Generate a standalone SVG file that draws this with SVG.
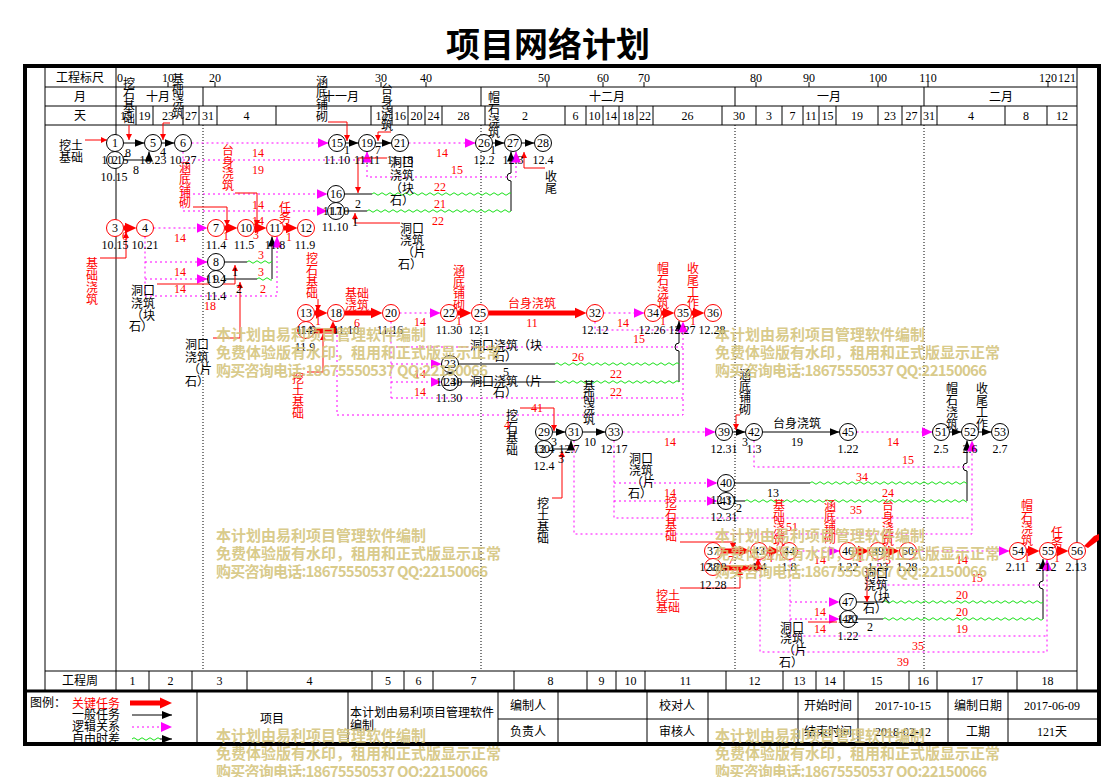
<svg xmlns="http://www.w3.org/2000/svg" xmlns:xlink="http://www.w3.org/1999/xlink" width="1101" height="777" viewBox="0 0 1101 777">
<style>
text{font-family:"Liberation Serif","Noto Sans CJK SC",serif;font-size:12px;fill:#000}
.c{text-anchor:middle}
.r{fill:#f00}
.ttl{font-family:"Noto Sans CJK SC",sans-serif;font-size:34px;font-weight:bold;text-anchor:middle}
.ln{fill:none;stroke:#000;stroke-width:1}
.tk{fill:none;stroke:#000;stroke-width:3}
.md{fill:none;stroke:#000;stroke-width:1;stroke-dasharray:1,2}
.nb{fill:#fff;stroke:#000;stroke-width:1}
.nr{fill:#fff;stroke:#f00;stroke-width:1}
.ca{fill:none;stroke:#f00;stroke-width:5;marker-end:url(#ar)}
.na{fill:none;stroke:#000;stroke-width:1;marker-end:url(#ab)}
.la{fill:none;stroke:#f0f;stroke-width:1;stroke-dasharray:2,3;marker-end:url(#am)}
.lo{fill:none;stroke:#f0f;stroke-width:1;stroke-dasharray:2,3}
.ld{fill:none;stroke:#f00;stroke-width:1}
.lda{fill:none;stroke:#f00;stroke-width:1;marker-end:url(#al)}
.wv{fill:none;stroke:#18e018;stroke-width:1}
.wm{font-family:"Noto Sans CJK SC",sans-serif;font-size:15px;font-weight:bold;fill:#d4c47c;fill-opacity:0.9}
</style>
<defs>
<marker id="ar" markerUnits="userSpaceOnUse" markerWidth="13" markerHeight="12" refX="3" refY="6" orient="auto"><path d="M0,0.5L12,6L0,11.5z" fill="#f00"/></marker>
<marker id="ab" markerUnits="userSpaceOnUse" markerWidth="11" markerHeight="9" refX="10" refY="4.5" orient="auto"><path d="M0,0.5L10,4.5L0,8.5z" fill="#000"/></marker>
<marker id="am" markerUnits="userSpaceOnUse" markerWidth="12" markerHeight="11" refX="11" refY="5.5" orient="auto"><path d="M0,0.5L11,5.5L0,10.5z" fill="#f0f"/></marker>
<marker id="al" markerUnits="userSpaceOnUse" markerWidth="7" markerHeight="7" refX="6" refY="3" orient="auto"><path d="M0,0L6,3L0,6z" fill="#f00"/></marker>
<path id="wave" class="wv" d="M0,0q2,-2.5 4,0t4,0t4,0t4,0t4,0t4,0t4,0t4,0t4,0t4,0t4,0t4,0t4,0t4,0t4,0t4,0t4,0t4,0t4,0t4,0t4,0t4,0t4,0t4,0t4,0t4,0t4,0t4,0t4,0t4,0t4,0t4,0t4,0t4,0t4,0t4,0t4,0t4,0t4,0t4,0t4,0t4,0t4,0t4,0t4,0t4,0t4,0t4,0t4,0t4,0t4,0t4,0t4,0t4,0t4,0t4,0t4,0t4,0t4,0t4,0t4,0"/>
</defs>
<rect width="1101" height="777" fill="#fff"/>
<text class="ttl" x="548" y="57">项目网络计划</text>

<g id="frame">
<rect x="25" y="66" width="1074" height="678" fill="none" stroke="#000" stroke-width="4"/>
<path class="ln" d="M45,68V690M1077,68V690M116,68V690M45,87H1077M45,106H1077M45,125H1077M45,671H1077"/>
<path class="tk" d="M25,691H1099"/>
<path class="ln" d="M168,82V87M215,82V87M381,82V87M426,82V87M547,82V87M603,82V87M644,82V87M756,82V87M809,82V87M878,82V87M928,82V87M1048,82V87"/>
<path class="ln" d="M203,87V106M481,87V106M735,87V106M924,87V106"/>
<path class="ln" d="M136,106V125M153,106V125M183,106V125M199,106V125M217,106V125M276,106V125M371,106V125M392,106V125M408,106V125M425,106V125M442,106V125M485,106V125M565,106V125M586,106V125M603,106V125M619,106V125M637,106V125M653,106V125M722,106V125M756,106V125M782,106V125M803,106V125M819,106V125M836,106V125M878,106V125M902,106V125M921,106V125M937,106V125M1005,106V125M1047,106V125"/>
<path class="md" d="M203,125V671M481,125V671M735,125V671M924,125V671"/>
<path class="ln" d="M149,671V690M192,671V690M247,671V690M372,671V690M404,671V690M433,671V690M514,671V690M587,671V690M616,671V690M645,671V690M726,671V690M783,671V690M816,671V690M844,671V690M909,671V690M937,671V690M1017,671V690"/>
<path class="ln" d="M197,692V742M348,692V742M498,692V742M558,692V742M647,692V742M708,692V742M798,692V742M858,692V742M948,692V742M1008,692V742M498,719H1097"/>
</g>

<g id="scale-text">
<text x="80" y="82" class="c">工程标尺</text><text x="80" y="101" class="c">月</text><text x="80" y="120" class="c">天</text>
<text x="120" y="82" class="c">0</text><text x="168" y="82" class="c">10</text><text x="215" y="82" class="c">20</text><text x="381" y="82" class="c">30</text><text x="426" y="82" class="c">40</text><text x="544" y="82" class="c">50</text><text x="603" y="82" class="c">60</text><text x="644" y="82" class="c">70</text><text x="756" y="82" class="c">80</text><text x="809" y="82" class="c">90</text><text x="878" y="82" class="c">100</text><text x="928" y="82" class="c">110</text><text x="1048" y="82" class="c">120</text><text x="1067" y="82" class="c">121</text>
<text x="158" y="101" class="c">十月</text><text x="341" y="101" class="c">十一月</text><text x="607" y="101" class="c">十二月</text><text x="829" y="101" class="c">一月</text><text x="1001" y="101" class="c">二月</text>
<text x="126" y="120" class="c">15</text><text x="144.5" y="120" class="c">19</text><text x="168" y="120" class="c">23</text><text x="191" y="120" class="c">27</text><text x="208" y="120" class="c">31</text><text x="246.5" y="120" class="c">4</text><text x="381.5" y="120" class="c">12</text><text x="400" y="120" class="c">16</text><text x="416.5" y="120" class="c">20</text><text x="433.5" y="120" class="c">24</text><text x="463.5" y="120" class="c">28</text><text x="525" y="120" class="c">2</text><text x="575.5" y="120" class="c">6</text><text x="594.5" y="120" class="c">10</text><text x="611" y="120" class="c">14</text><text x="628" y="120" class="c">18</text><text x="645" y="120" class="c">22</text><text x="687.5" y="120" class="c">26</text><text x="739" y="120" class="c">30</text><text x="769" y="120" class="c">3</text><text x="792.5" y="120" class="c">7</text><text x="811" y="120" class="c">11</text><text x="827.5" y="120" class="c">15</text><text x="857" y="120" class="c">19</text><text x="890" y="120" class="c">23</text><text x="911.5" y="120" class="c">27</text><text x="929" y="120" class="c">31</text><text x="971" y="120" class="c">4</text><text x="1026" y="120" class="c">8</text><text x="1062" y="120" class="c">12</text>
<text x="80" y="685" class="c">工程周</text>
<text x="132.5" y="685" class="c">1</text><text x="170.5" y="685" class="c">2</text><text x="219.5" y="685" class="c">3</text><text x="309.5" y="685" class="c">4</text><text x="388" y="685" class="c">5</text><text x="418.5" y="685" class="c">6</text><text x="473.5" y="685" class="c">7</text><text x="550.5" y="685" class="c">8</text><text x="601.5" y="685" class="c">9</text><text x="630.5" y="685" class="c">10</text><text x="685.5" y="685" class="c">11</text><text x="754.5" y="685" class="c">12</text><text x="799.5" y="685" class="c">13</text><text x="830" y="685" class="c">14</text><text x="876.5" y="685" class="c">15</text><text x="923" y="685" class="c">16</text><text x="977" y="685" class="c">17</text><text x="1047.5" y="685" class="c">18</text>
</g>

<g id="connectors">
<path class="ca" d="M123.5,228H127.5"/><path class="ca" d="M224.5,228H228.5"/><path class="ca" d="M254.5,228H257.5"/><path class="ca" d="M283.5,228H288.5"/><path class="ca" d="M314.5,313H318.5"/><path class="ca" d="M344.5,313H373.5"/><path class="ca" d="M457.5,313H462.5"/><path class="ca" d="M488.5,313H577.5"/><path class="ca" d="M661.5,313H665.5"/><path class="ca" d="M691.5,313H695.5"/><path class="ca" d="M721.5,551H741.5"/><path class="ca" d="M767.5,551H771.5"/><path class="ca" d="M856.5,551H860.5"/><path class="ca" d="M886.5,551H890.5"/><path class="ca" d="M1026.5,551H1030.5"/><path class="ca" d="M1056.5,551H1059.5"/>
<path class="ca" d="M314,331H333V330"/>
<path class="ca" d="M721.5,568H758V567"/>
<path class="na" d="M123.5,143H144.5"/><path class="na" d="M123.5,160H149V151.5"/><path class="na" d="M161.5,143H174.5"/>
<path class="ln" d="M224.5,262H247M224.5,279H257"/><path class="na" d="M272,279V236.5"/>
<path class="na" d="M345.5,143H358.5"/><path class="na" d="M375.5,143H391.5"/>
<path class="ln" d="M344.5,194H372M344.5,211H367"/><path class="na" d="M511,211V181a4,4 0 0 1 0,-8V151.5"/>
<path class="na" d="M492.5,143H504.5"/><path class="na" d="M521.5,143H534.5"/>
<path class="ln" d="M458.5,364H555M458.5,382H555"/><path class="na" d="M679,382V351a4,4 0 0 1 0,-8V321"/>
<path class="na" d="M552.5,432H565.5"/><path class="na" d="M552.5,449H571V440.5"/><path class="na" d="M582.5,432H605.5"/>
<path class="na" d="M732.5,432H745.5"/><path class="na" d="M762.5,432H839.5"/><path class="na" d="M949.5,432H961.5"/><path class="na" d="M978.5,432H991.5"/>
<path class="ln" d="M734.5,483H810M734.5,501H745"/><path class="na" d="M967,501V471a4,4 0 0 1 0,-8V440.5"/>
<path class="ln" d="M856.5,602H883M856.5,619H883"/><path class="na" d="M1043,619V589a4,4 0 0 1 0,-8V559"/>
<svg x="247" y="259" width="25" height="6"><use xlink:href="#wave" y="3"/></svg>
<svg x="257" y="276" width="15" height="6"><use xlink:href="#wave" y="3"/></svg>
<svg x="372" y="191" width="139" height="6"><use xlink:href="#wave" y="3"/></svg>
<svg x="367" y="208" width="144" height="6"><use xlink:href="#wave" y="3"/></svg>
<svg x="555" y="361" width="124" height="6"><use xlink:href="#wave" y="3"/></svg>
<svg x="555" y="379" width="124" height="6"><use xlink:href="#wave" y="3"/></svg>
<svg x="810" y="480" width="157" height="6"><use xlink:href="#wave" y="3"/></svg>
<svg x="745" y="498" width="222" height="6"><use xlink:href="#wave" y="3"/></svg>
<svg x="883" y="599" width="160" height="6"><use xlink:href="#wave" y="3"/></svg>
<svg x="883" y="616" width="160" height="6"><use xlink:href="#wave" y="3"/></svg>
<path class="lo" d="M183,151.5V211M145,236.5V296M391,321.5V398M391,347H683M595,321.5V330H683M337,330V415H683V398M614,440.5V518H972M790,559.5V636H1047M754,440.5V467H972M878,559.5V585H1047"/>
<path class="la" d="M153.5,228H207.5"/><path class="la" d="M191.5,143H328.5"/><path class="la" d="M183,160H367V151.5"/><path class="la" d="M183,194H327.5"/><path class="la" d="M183,211H327.5"/>
<path class="la" d="M408.5,143H475.5"/><path class="la" d="M367,160V177H516V151.5"/>
<path class="la" d="M145,262H207.5"/><path class="la" d="M145,279H207.5"/><path class="la" d="M145,296H277V236.5"/>
<path class="la" d="M399.5,313H440.5"/><path class="la" d="M391,364H441.5"/><path class="la" d="M391,382H441.5"/><path class="la" d="M391,398H683V321.5"/>
<path class="la" d="M603.5,313H644.5"/><path class="la" d="M622.5,432H715.5"/><path class="la" d="M614,483H717.5"/><path class="la" d="M614,501H717.5"/><path class="la" d="M574,440.5V534H972V440.5"/>
<path class="la" d="M797.5,551H839.5"/><path class="la" d="M916.5,551H1009.5"/><path class="la" d="M760,559.5V652H1047V559.5"/><path class="la" d="M790,602H839.5"/><path class="la" d="M790,619H839.5"/><path class="la" d="M856.5,432H932.5"/>
<path class="lda" d="M85,140H107"/><path class="lda" d="M129,125V140"/><path class="lda" d="M170,123H163V140"/><path class="lda" d="M328,122H347V141"/><path class="lda" d="M391,132H378V141"/><path class="lda" d="M545,168H524V152"/>
<path class="lda" d="M193,207H227V226"/><path class="lda" d="M235,193H257V226"/><path class="lda" d="M100,258H126V232"/><path class="lda" d="M157,284H235V265"/><path class="lda" d="M213,338H240V282"/>
<path class="lda" d="M387,158H358V193"/><path class="lda" d="M400,223H355V213"/><path class="lda" d="M318,299V311"/><path class="lda" d="M307,372H323V334"/>
<path class="lda" d="M520,408H554V431"/><path class="lda" d="M552,498H562V451"/><path class="lda" d="M740,415H736V430"/><path class="lda" d="M680,542H733V549"/><path class="lda" d="M680,588H740V569"/><path class="ld" d="M808,622H837"/><path class="lda" d="M867,568V602"/>
<path d="M1084,546L1094,536L1099,534L1099,540L1088,548z" fill="#f00"/>
</g>

<g id="n1"><circle class="nb" cx="115" cy="143" r="8.5"/><text class="c" x="115" y="147">1</text></g>
<g id="n2"><circle class="nb" cx="115" cy="160" r="8.5"/><text class="c" x="115" y="164">2</text></g>
<g id="n5"><circle class="nb" cx="153" cy="143" r="8.5"/><text class="c" x="153" y="147">5</text></g>
<g id="n6"><circle class="nb" cx="183" cy="143" r="8.5"/><text class="c" x="183" y="147">6</text></g>
<g id="n3"><circle class="nr" cx="115" cy="228" r="8.5"/><text class="c" x="115" y="232">3</text></g>
<g id="n4"><circle class="nr" cx="145" cy="228" r="8.5"/><text class="c" x="145" y="232">4</text></g>
<g id="n7"><circle class="nr" cx="216" cy="228" r="8.5"/><text class="c" x="216" y="232">7</text></g>
<g id="n10"><circle class="nr" cx="246" cy="228" r="8.5"/><text class="c" x="246" y="232">10</text></g>
<g id="n11"><circle class="nr" cx="275" cy="228" r="8.5"/><text class="c" x="275" y="232">11</text></g>
<g id="n12"><circle class="nr" cx="306" cy="228" r="8.5"/><text class="c" x="306" y="232">12</text></g>
<g id="n8"><circle class="nb" cx="216" cy="262" r="8.5"/><text class="c" x="216" y="266">8</text></g>
<g id="n9"><circle class="nb" cx="216" cy="279" r="8.5"/><text class="c" x="216" y="283">9</text></g>
<g id="n15"><circle class="nb" cx="337" cy="143" r="8.5"/><text class="c" x="337" y="147">15</text></g>
<g id="n19"><circle class="nb" cx="367" cy="143" r="8.5"/><text class="c" x="367" y="147">19</text></g>
<g id="n21"><circle class="nb" cx="400" cy="143" r="8.5"/><text class="c" x="400" y="147">21</text></g>
<g id="n16"><circle class="nb" cx="336" cy="194" r="8.5"/><text class="c" x="336" y="198">16</text></g>
<g id="n17"><circle class="nb" cx="336" cy="211" r="8.5"/><text class="c" x="336" y="215">17</text></g>
<g id="n26"><circle class="nb" cx="484" cy="143" r="8.5"/><text class="c" x="484" y="147">26</text></g>
<g id="n27"><circle class="nb" cx="513" cy="143" r="8.5"/><text class="c" x="513" y="147">27</text></g>
<g id="n28"><circle class="nb" cx="543" cy="143" r="8.5"/><text class="c" x="543" y="147">28</text></g>
<g id="n13"><circle class="nr" cx="306" cy="313" r="8.5"/><text class="c" x="306" y="317">13</text></g>
<g id="n14"><circle class="nr" cx="306" cy="330" r="8.5"/><text class="c" x="306" y="334">14</text></g>
<g id="n18"><circle class="nr" cx="336" cy="313" r="8.5"/><text class="c" x="336" y="317">18</text></g>
<g id="n20"><circle class="nr" cx="391" cy="313" r="8.5"/><text class="c" x="391" y="317">20</text></g>
<g id="n22"><circle class="nr" cx="449" cy="313" r="8.5"/><text class="c" x="449" y="317">22</text></g>
<g id="n25"><circle class="nr" cx="480" cy="313" r="8.5"/><text class="c" x="480" y="317">25</text></g>
<g id="n32"><circle class="nr" cx="595" cy="313" r="8.5"/><text class="c" x="595" y="317">32</text></g>
<g id="n34"><circle class="nr" cx="653" cy="313" r="8.5"/><text class="c" x="653" y="317">34</text></g>
<g id="n35"><circle class="nr" cx="683" cy="313" r="8.5"/><text class="c" x="683" y="317">35</text></g>
<g id="n36"><circle class="nr" cx="713" cy="313" r="8.5"/><text class="c" x="713" y="317">36</text></g>
<g id="n23"><circle class="nb" cx="450" cy="364" r="8.5"/><text class="c" x="450" y="368">23</text></g>
<g id="n24"><circle class="nb" cx="450" cy="382" r="8.5"/><text class="c" x="450" y="386">24</text></g>
<g id="n29"><circle class="nb" cx="544" cy="432" r="8.5"/><text class="c" x="544" y="436">29</text></g>
<g id="n30"><circle class="nb" cx="544" cy="449" r="8.5"/><text class="c" x="544" y="453">30</text></g>
<g id="n31"><circle class="nb" cx="574" cy="432" r="8.5"/><text class="c" x="574" y="436">31</text></g>
<g id="n33"><circle class="nb" cx="614" cy="432" r="8.5"/><text class="c" x="614" y="436">33</text></g>
<g id="n39"><circle class="nb" cx="724" cy="432" r="8.5"/><text class="c" x="724" y="436">39</text></g>
<g id="n42"><circle class="nb" cx="754" cy="432" r="8.5"/><text class="c" x="754" y="436">42</text></g>
<g id="n45"><circle class="nb" cx="848" cy="432" r="8.5"/><text class="c" x="848" y="436">45</text></g>
<g id="n51"><circle class="nb" cx="941" cy="432" r="8.5"/><text class="c" x="941" y="436">51</text></g>
<g id="n52"><circle class="nb" cx="970" cy="432" r="8.5"/><text class="c" x="970" y="436">52</text></g>
<g id="n53"><circle class="nb" cx="1000" cy="432" r="8.5"/><text class="c" x="1000" y="436">53</text></g>
<g id="n40"><circle class="nb" cx="726" cy="483" r="8.5"/><text class="c" x="726" y="487">40</text></g>
<g id="n41"><circle class="nb" cx="726" cy="501" r="8.5"/><text class="c" x="726" y="505">41</text></g>
<g id="n37"><circle class="nr" cx="713" cy="551" r="8.5"/><text class="c" x="713" y="555">37</text></g>
<g id="n38"><circle class="nr" cx="713" cy="567" r="8.5"/><text class="c" x="713" y="571">38</text></g>
<g id="n43"><circle class="nr" cx="759" cy="551" r="8.5"/><text class="c" x="759" y="555">43</text></g>
<g id="n44"><circle class="nr" cx="789" cy="551" r="8.5"/><text class="c" x="789" y="555">44</text></g>
<g id="n46"><circle class="nr" cx="848" cy="551" r="8.5"/><text class="c" x="848" y="555">46</text></g>
<g id="n49"><circle class="nr" cx="878" cy="551" r="8.5"/><text class="c" x="878" y="555">49</text></g>
<g id="n50"><circle class="nr" cx="908" cy="551" r="8.5"/><text class="c" x="908" y="555">50</text></g>
<g id="n54"><circle class="nr" cx="1018" cy="551" r="8.5"/><text class="c" x="1018" y="555">54</text></g>
<g id="n55"><circle class="nr" cx="1048" cy="551" r="8.5"/><text class="c" x="1048" y="555">55</text></g>
<g id="n56"><circle class="nr" cx="1077" cy="551" r="8.5"/><text class="c" x="1077" y="555">56</text></g>
<g id="n47"><circle class="nb" cx="848" cy="602" r="8.5"/><text class="c" x="848" y="606">47</text></g>
<g id="n48"><circle class="nb" cx="848" cy="619" r="8.5"/><text class="c" x="848" y="623">48</text></g>

<g id="labels">
<text class="c" x="71" y="150">挖土</text><text class="c" x="71" y="162">基础</text>
<text class="c"><tspan x="129" y="88">挖</tspan><tspan x="129" y="99">石</tspan><tspan x="129" y="111">基</tspan><tspan x="129" y="123">础</tspan></text>
<text class="c"><tspan x="178" y="84">基</tspan><tspan x="178" y="95">础</tspan><tspan x="178" y="106">浇</tspan><tspan x="178" y="118">筑</tspan></text>
<text class="c"><tspan x="322" y="86">涵</tspan><tspan x="322" y="97">底</tspan><tspan x="322" y="109">铺</tspan><tspan x="322" y="121">砌</tspan></text>
<text class="c"><tspan x="387" y="94">台</tspan><tspan x="387" y="106">身</tspan><tspan x="387" y="118">浇</tspan><tspan x="387" y="130">筑</tspan></text>
<text class="c"><tspan x="494" y="102">帽</tspan><tspan x="494" y="114">石</tspan><tspan x="494" y="126">浇</tspan><tspan x="494" y="137">筑</tspan></text>
<text class="c"><tspan x="551" y="181">收</tspan><tspan x="551" y="193">尾</tspan></text>
<text class="c"><tspan x="402" y="167">洞口</tspan><tspan x="402" y="180">浇筑</tspan><tspan x="402" y="193">（块</tspan><tspan x="402" y="205">石）</tspan></text>
<text class="c"><tspan x="412" y="233">洞口</tspan><tspan x="412" y="245">浇筑</tspan><tspan x="414" y="257">（片</tspan><tspan x="410" y="269">石）</tspan></text>
<text class="c"><tspan x="143" y="295">洞口</tspan><tspan x="143" y="308">浇筑</tspan><tspan x="143" y="320">（块</tspan><tspan x="141" y="331">石）</tspan></text>
<text class="c"><tspan x="197" y="349">洞口</tspan><tspan x="197" y="362">浇筑</tspan><tspan x="200" y="374">（片</tspan><tspan x="197" y="386">石）</tspan></text>
<text class="c r"><tspan x="185" y="172">涵</tspan><tspan x="185" y="184">底</tspan><tspan x="185" y="196">铺</tspan><tspan x="185" y="207">砌</tspan></text>
<text class="c r"><tspan x="228" y="155">台</tspan><tspan x="228" y="167">身</tspan><tspan x="228" y="178">浇</tspan><tspan x="228" y="190">筑</tspan></text>
<text class="c r"><tspan x="285" y="212">任</tspan><tspan x="285" y="223">务</tspan></text>
<text class="c r"><tspan x="92" y="268">基</tspan><tspan x="92" y="280">础</tspan><tspan x="92" y="292">浇</tspan><tspan x="92" y="304">筑</tspan></text>
<text class="c r"><tspan x="312" y="263">挖</tspan><tspan x="312" y="275">石</tspan><tspan x="312" y="287">基</tspan><tspan x="312" y="298">础</tspan></text>
<text class="c r"><tspan x="298" y="383">挖</tspan><tspan x="298" y="395">土</tspan><tspan x="298" y="407">基</tspan><tspan x="298" y="418">础</tspan></text>
<text class="c r"><tspan x="357" y="298">基础</tspan><tspan x="357" y="310">浇筑</tspan></text>
<text class="c r"><tspan x="459" y="275">涵</tspan><tspan x="459" y="287">底</tspan><tspan x="459" y="298">铺</tspan><tspan x="459" y="310">砌</tspan></text>
<text class="c r" x="532" y="308">台身浇筑</text>
<text class="c r"><tspan x="663" y="273">帽</tspan><tspan x="663" y="285">石</tspan><tspan x="663" y="297">浇</tspan><tspan x="663" y="308">筑</tspan></text>
<text class="c r"><tspan x="693" y="273">收</tspan><tspan x="693" y="285">尾</tspan><tspan x="693" y="297">工</tspan><tspan x="693" y="308">作</tspan></text>
<text class="c"><tspan x="506" y="350">洞口浇筑（块</tspan><tspan x="505" y="361">石）</tspan></text>
<text class="c"><tspan x="506" y="386">洞口浇筑（片</tspan><tspan x="505" y="397">石）</tspan></text>
<text class="c"><tspan x="512" y="420">挖</tspan><tspan x="512" y="432">石</tspan><tspan x="512" y="443">基</tspan><tspan x="512" y="455">础</tspan></text>
<text class="c"><tspan x="543" y="508">挖</tspan><tspan x="543" y="520">土</tspan><tspan x="543" y="532">基</tspan><tspan x="543" y="543">础</tspan></text>
<text class="c"><tspan x="589" y="391">基</tspan><tspan x="589" y="402">础</tspan><tspan x="589" y="413">浇</tspan><tspan x="589" y="424">筑</tspan></text>
<text class="c"><tspan x="641" y="463">洞口</tspan><tspan x="641" y="475">浇筑</tspan><tspan x="643" y="487">（片</tspan><tspan x="640" y="498">石）</tspan></text>
<text class="c"><tspan x="745" y="379">涵</tspan><tspan x="745" y="391">底</tspan><tspan x="745" y="402">铺</tspan><tspan x="745" y="414">砌</tspan></text>
<text class="c" x="797" y="428">台身浇筑</text>
<text class="c"><tspan x="952" y="393">帽</tspan><tspan x="952" y="405">石</tspan><tspan x="952" y="417">浇</tspan><tspan x="952" y="429">筑</tspan></text>
<text class="c"><tspan x="982" y="393">收</tspan><tspan x="982" y="405">尾</tspan><tspan x="982" y="417">工</tspan><tspan x="982" y="429">作</tspan></text>
<text class="c r"><tspan x="671" y="507">挖</tspan><tspan x="671" y="519">石</tspan><tspan x="671" y="530">基</tspan><tspan x="671" y="541">础</tspan></text>
<text class="c r"><tspan x="668" y="600">挖土</tspan><tspan x="668" y="612">基础</tspan></text>
<text class="c r"><tspan x="779" y="510">基</tspan><tspan x="779" y="522">础</tspan><tspan x="779" y="533">浇</tspan><tspan x="779" y="545">筑</tspan></text>
<text class="c r"><tspan x="830" y="510">涵</tspan><tspan x="830" y="521">底</tspan><tspan x="830" y="532">铺</tspan><tspan x="830" y="543">砌</tspan></text>
<text class="c r"><tspan x="888" y="510">台</tspan><tspan x="888" y="522">身</tspan><tspan x="888" y="533">浇</tspan><tspan x="888" y="545">筑</tspan></text>
<text class="c r"><tspan x="1027" y="510">帽</tspan><tspan x="1027" y="522">石</tspan><tspan x="1027" y="533">浇</tspan><tspan x="1027" y="545">筑</tspan></text>
<text class="c r"><tspan x="1057" y="537">任</tspan><tspan x="1057" y="548">务</tspan></text>
<text class="c"><tspan x="876" y="578">洞口</tspan><tspan x="876" y="590">浇筑</tspan><tspan x="878" y="602">（块</tspan><tspan x="875" y="613">石）</tspan></text>
<text class="c"><tspan x="792" y="632">洞口</tspan><tspan x="792" y="643">浇筑</tspan><tspan x="795" y="655">（片</tspan><tspan x="791" y="667">石）</tspan></text>
</g>

<g id="dates">
<text class="c" x="115" y="164">10.15</text><text class="c" x="153" y="164">10.23</text><text class="c" x="183" y="164">10.27</text><text class="c" x="114" y="181">10.15</text>
<text class="c" x="115" y="249">10.15</text><text class="c" x="145" y="249">10.21</text><text class="c" x="216" y="249">11.4</text><text class="c" x="244" y="249">11.5</text><text class="c" x="275" y="249">11.8</text><text class="c" x="305" y="249">11.9</text>
<text class="c" x="216" y="283">11.4</text><text class="c" x="216" y="300">11.4</text>
<text class="c" x="337" y="164">11.10</text><text class="c" x="367" y="164">11.11</text><text class="c" x="400" y="164">11.18</text>
<text class="c" x="336" y="215">11.10</text><text class="c" x="335" y="231">11.10</text>
<text class="c" x="484" y="164">12.2</text><text class="c" x="513" y="164">12.3</text><text class="c" x="543" y="164">12.4</text>
<text class="c" x="306" y="334">11.9</text><text class="c" x="305" y="351">11.9</text><text class="c" x="346" y="334">11.10</text><text class="c" x="390" y="334">11.16</text><text class="c" x="449" y="334">11.30</text><text class="c" x="479" y="334">12.1</text><text class="c" x="595" y="334">12.12</text><text class="c" x="652" y="334">12.26</text><text class="c" x="682" y="334">12.27</text><text class="c" x="712" y="334">12.28</text>
<text class="c" x="449" y="386">11.30</text><text class="c" x="449" y="402">11.30</text>
<text class="c" x="544" y="453">12.4</text><text class="c" x="544" y="470">12.4</text><text class="c" x="569" y="453">12.7</text><text class="c" x="614" y="453">12.17</text><text class="c" x="724" y="453">12.31</text><text class="c" x="754" y="453">1.3</text><text class="c" x="848" y="453">1.22</text><text class="c" x="941" y="453">2.5</text><text class="c" x="970" y="453">2.6</text><text class="c" x="1000" y="453">2.7</text>
<text class="c" x="724" y="504">12.31</text><text class="c" x="724" y="521">12.31</text>
<text class="c" x="713" y="571">12.28</text><text class="c" x="713" y="589">12.28</text><text class="c" x="759" y="571">1.4</text><text class="c" x="789" y="571">1.8</text><text class="c" x="848" y="571">1.22</text><text class="c" x="878" y="571">1.23</text><text class="c" x="907" y="571">1.28</text><text class="c" x="1016" y="571">2.11</text><text class="c" x="1046" y="571">2.12</text><text class="c" x="1076" y="571">2.13</text>
<text class="c" x="848" y="623">1.22</text><text class="c" x="848" y="640">1.22</text>
</g>

<g id="durations">
<text class="c" x="128" y="157">8</text><text class="c" x="136" y="174">8</text><text class="c" x="163" y="156">4</text>
<text class="c" x="347" y="154">1</text><text class="c" x="378" y="154">7</text><text class="c" x="358" y="208">2</text><text class="c" x="355" y="226">1</text>
<text class="c" x="493" y="154">1</text>
<text class="c" x="235" y="276">1</text><text class="c" x="239" y="293">2</text>
<text class="c" x="506" y="376">5</text>
<text class="c" x="554" y="446">3</text><text class="c" x="561" y="463">3</text><text class="c" x="590" y="446">10</text>
<text class="c" x="745" y="446">3</text><text class="c" x="797" y="446">19</text>
<text class="c" x="773" y="497">13</text><text class="c" x="739" y="512">2</text><text class="c" x="870" y="631">2</text>
<g class="r">
<text class="c r" x="258" y="157">14</text><text class="c r" x="258" y="174">19</text><text class="c r" x="258" y="209">14</text><text class="c r" x="258" y="225">14</text>
<text class="c r" x="442" y="157">14</text><text class="c r" x="457" y="174">15</text><text class="c r" x="440" y="191">22</text><text class="c r" x="440" y="208">21</text><text class="c r" x="438" y="225">22</text>
<text class="c r" x="125" y="240">6</text><text class="c r" x="180" y="242">14</text><text class="c r" x="226" y="240">1</text><text class="c r" x="256" y="239">3</text><text class="c r" x="289" y="241">1</text>
<text class="c r" x="261" y="259">3</text><text class="c r" x="261" y="276">3</text><text class="c r" x="263" y="293">2</text>
<text class="c r" x="180" y="276">14</text><text class="c r" x="180" y="293">14</text><text class="c r" x="210" y="310">18</text>
<text class="c r" x="318" y="325">1</text><text class="c r" x="357" y="327">6</text><text class="c r" x="420" y="326">14</text><text class="c r" x="459" y="325">1</text><text class="c r" x="532" y="327">11</text><text class="c r" x="623" y="327">14</text><text class="c r" x="663" y="325">1</text><text class="c r" x="693" y="325">1</text>
<text class="c r" x="639" y="343">15</text><text class="c r" x="578" y="361">26</text><text class="c r" x="616" y="378">22</text><text class="c r" x="616" y="396">22</text><text class="c r" x="420" y="378">14</text><text class="c r" x="420" y="396">14</text>
<text class="c r" x="537" y="412">41</text><text class="c r" x="507" y="429">4</text><text class="c r" x="670" y="446">14</text><text class="c r" x="670" y="497">14</text>
<text class="c r" x="893" y="446">14</text><text class="c r" x="908" y="464">15</text><text class="c r" x="862" y="481">34</text><text class="c r" x="888" y="497">24</text><text class="c r" x="856" y="514">35</text><text class="c r" x="792" y="531">51</text>
<text class="c r" x="731" y="564">7</text><text class="c r" x="770" y="562">4</text><text class="c r" x="820" y="564">14</text><text class="c r" x="860" y="562">1</text><text class="c r" x="888" y="564">5</text><text class="c r" x="962" y="564">14</text><text class="c r" x="1027" y="562">1</text><text class="c r" x="1057" y="562">1</text>
<text class="c r" x="977" y="582">15</text><text class="c r" x="962" y="599">20</text><text class="c r" x="962" y="616">20</text><text class="c r" x="962" y="633">19</text><text class="c r" x="820" y="616">14</text><text class="c r" x="820" y="633">14</text><text class="c r" x="918" y="650">35</text><text class="c r" x="903" y="666">39</text>
</g>
</g>

<g id="legend">
<text x="30" y="707">图例：</text>
<text class="r" x="72" y="708">关键任务</text><text x="72" y="719">一般任务</text><text x="72" y="731">逻辑关系</text><text x="72" y="743">自由时差</text>
<path class="ca" d="M130,703H163"/><path class="na" d="M132,715H172"/><path class="la" d="M132,727H172"/>
<svg x="132" y="736" width="28" height="6"><use xlink:href="#wave" y="3"/></svg><path class="na" d="M160,739H172"/>
<text class="c" x="272" y="723">项目</text>
<text x="350" y="717">本计划由易利项目管理软件</text><text x="350" y="730">编制</text>
<text class="c" x="528" y="710">编制人</text><text class="c" x="528" y="736">负责人</text><text class="c" x="677" y="710">校对人</text><text class="c" x="677" y="736">审核人</text>
<text class="c" x="828" y="710">开始时间</text><text class="c" x="828" y="736">结束时间</text><text class="c" x="903" y="710">2017-10-15</text><text class="c" x="903" y="736">2018-02-12</text>
<text class="c" x="978" y="710">编制日期</text><text class="c" x="978" y="736">工期</text><text class="c" x="1052" y="710">2017-06-09</text><text class="c" x="1052" y="736">121天</text>
</g>

<g id="watermark">
<text class="wm" x="216" y="340">本计划由易利项目管理软件编制</text><text class="wm" x="216" y="358">免费体验版有水印，租用和正式版显示正常</text><text class="wm" x="216" y="376" textLength="272">购买咨询电话:18675550537 QQ:22150066</text>
<text class="wm" x="715" y="340">本计划由易利项目管理软件编制</text><text class="wm" x="715" y="358">免费体验版有水印，租用和正式版显示正常</text><text class="wm" x="715" y="376" textLength="272">购买咨询电话:18675550537 QQ:22150066</text>
<text class="wm" x="216" y="541">本计划由易利项目管理软件编制</text><text class="wm" x="216" y="559">免费体验版有水印，租用和正式版显示正常</text><text class="wm" x="216" y="577" textLength="272">购买咨询电话:18675550537 QQ:22150066</text>
<text class="wm" x="715" y="541">本计划由易利项目管理软件编制</text><text class="wm" x="715" y="559">免费体验版有水印，租用和正式版显示正常</text><text class="wm" x="715" y="577" textLength="272">购买咨询电话:18675550537 QQ:22150066</text>
<text class="wm" x="216" y="741">本计划由易利项目管理软件编制</text><text class="wm" x="216" y="759">免费体验版有水印，租用和正式版显示正常</text><text class="wm" x="216" y="777" textLength="272">购买咨询电话:18675550537 QQ:22150066</text>
<text class="wm" x="715" y="741">本计划由易利项目管理软件编制</text><text class="wm" x="715" y="759">免费体验版有水印，租用和正式版显示正常</text><text class="wm" x="715" y="777" textLength="272">购买咨询电话:18675550537 QQ:22150066</text>
</g>
</svg>
